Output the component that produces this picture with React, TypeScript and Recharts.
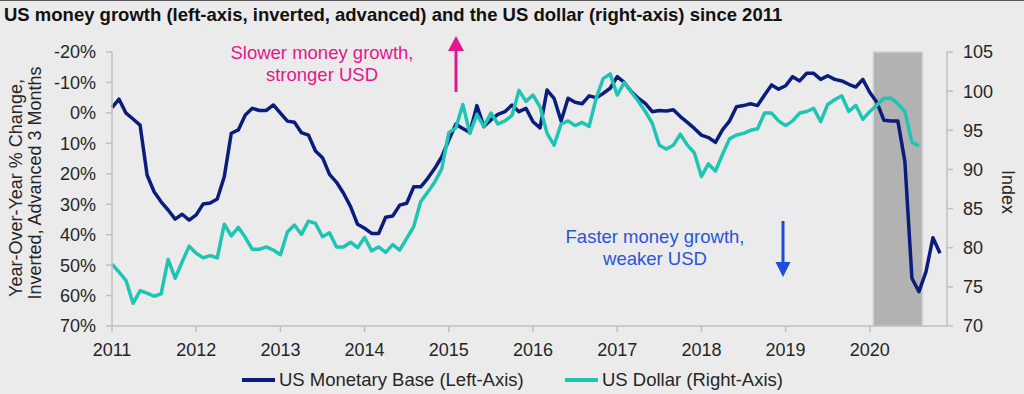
import React from 'react';
import { ComposedChart, Line, XAxis, YAxis, ReferenceArea, Legend } from 'recharts';

const FONT = '"Liberation Sans", Arial, Helvetica, sans-serif';

// Monthly index: 0 = Jan 2011
const YEARS = [2011, 2012, 2013, 2014, 2015, 2016, 2017, 2018, 2019, 2020];
const LEFT_TICKS = [-20, -10, 0, 10, 20, 30, 40, 50, 60, 70];
const RIGHT_TICKS = [70, 75, 80, 85, 90, 95, 100, 105];

// US Monetary Base, YoY % change (inverted, advanced 3 months)
const monetaryBase = [
  -1.7, -4.5, 0.1, 2.0, 4.0, 20.4, 25.9, 29.2, 31.9, 34.9,
  33.3, 35.2, 33.5, 29.9, 29.6, 28.3, 21.0, 6.7, 5.6, 0.7,
  -1.5, -0.8, -0.8, -2.6, 0.1, 2.7, 3.1, 6.5, 7.3, 12.5,
  14.7, 20.2, 22.8, 26.4, 30.8, 36.6, 37.9, 39.6, 39.6, 34.3,
  33.9, 30.3, 29.7, 24.3, 24.3, 21.5, 18.2, 14.4, 8.9, 3.7,
  5.1, 6.4, -2.4, 4.5, 2.3, 0.5, -0.4, -2.6, -0.4, -1.5,
  2.9, 4.9, -7.5, -4.8, 2.7, -4.8, -3.5, -3.0, -5.6, -5.0,
  -6.4, -8.1, -11.9, -10.0, -7.0, -4.8, -3.1, -0.4, -0.8, -0.6,
  -1.0, 1.2, 3.1, 5.1, 7.3, 8.1, 9.7, 5.6, 2.7, -2.0,
  -2.4, -3.0, -2.4, -5.9, -9.2, -7.8, -8.9, -11.9, -10.5, -13.0,
  -13.0, -11.0, -12.2, -11.0, -10.5, -9.4, -8.5, -11.0, -6.7, -3.5,
  2.4, 2.7, 2.7, 16.0, 54.3, 58.7, 52.2, 41.0, 46.1,
];

// US Dollar index
const usDollar = [
  77.9, 76.9, 75.8, 72.9, 74.5, 74.2, 73.8, 74.1, 78.5, 76.1,
  78.2, 80.2, 79.3, 78.7, 79.0, 78.7, 83.0, 81.5, 82.6, 81.3,
  79.8, 79.8, 80.1, 79.7, 79.1, 82.0, 82.9, 81.7, 83.4, 83.1,
  81.4, 81.9, 80.1, 80.1, 80.7, 80.0, 81.3, 79.6, 80.1, 79.4,
  80.4, 79.7, 81.2, 82.7, 85.9, 87.1, 88.4, 90.1, 94.7, 95.3,
  98.3, 94.6, 97.0, 95.5, 97.2, 95.8, 96.2, 96.9, 100.1, 98.7,
  99.5, 98.0, 94.6, 93.1, 95.8, 96.2, 95.6, 96.0, 95.5, 99.1,
  101.6, 102.2, 99.5, 101.1, 99.9, 98.7, 97.4, 95.9, 93.1, 92.6,
  93.1, 94.5, 93.1, 92.1, 89.1, 90.7, 89.8, 91.9, 93.9, 94.4,
  94.6, 95.0, 95.2, 97.2, 97.2, 96.2, 95.6, 96.2, 97.2, 97.4,
  97.8, 96.1, 98.3, 98.9, 99.4, 97.4, 98.2, 96.4, 97.4, 98.2,
  99.1, 99.1, 98.4, 97.4, 93.5, 93.0,
];

// shaded period (month index)
const SHADE = [108.5, 115.5];

const BASE_COLOR = '#0b1d7c';
const USD_COLOR = '#1fc5b3';

const data = monetaryBase.map((v, i) => ({
  m: i,
  base: v,
  usd: i < usDollar.length ? usDollar[i] : null,
}));

const LEGEND_ITEMS = [
  { name: 'US Monetary Base (Left-Axis)', color: BASE_COLOR, left: 242 },
  { name: 'US Dollar (Right-Axis)', color: USD_COLOR, left: 565 },
];

const tickStyle = { fontSize: 18, fill: '#262626', fontFamily: FONT };
const axisGray = '#bfbfbf';

const renderLegend = () => (
  <div style={{ position: 'relative', width: 1024, height: 24, fontFamily: FONT, fontSize: 18.5, color: '#262626' }}>
    {LEGEND_ITEMS.map((it) => (
      <div key={it.name} style={{ position: 'absolute', left: it.left, top: 0, height: 24, display: 'flex', alignItems: 'center', whiteSpace: 'nowrap' }}>
        <span style={{ display: 'inline-block', width: 33, height: 4, background: it.color, marginRight: 4 }} />
        <span>{it.name}</span>
      </div>
    ))}
  </div>
);

export default function App() {
  return (
    <div style={{ position: 'absolute', left: 0, top: 0, width: 1024, height: 394, background: '#ebebeb', overflow: 'hidden', fontFamily: FONT }}>
      <ComposedChart width={1024} height={394} data={data} margin={{ top: 52, right: 0, bottom: 14, left: 0 }}>
        <XAxis
          dataKey="m"
          type="number"
          domain={[0, 119]}
          ticks={YEARS.map((y) => (y - 2011) * 12)}
          tickFormatter={(v) => String(2011 + Math.round(v / 12))}
          interval={0}
          height={30}
          tick={tickStyle}
          tickSize={6}
          tickMargin={11}
          stroke={axisGray}
          axisLine={{ stroke: axisGray, strokeWidth: 1.5 }}
          tickLine={{ stroke: axisGray, strokeWidth: 1.5 }}
        />
        <YAxis
          yAxisId="left"
          orientation="left"
          width={112}
          domain={[-20, 70]}
          reversed
          ticks={LEFT_TICKS}
          interval={0}
          tickFormatter={(v) => `${v}%`}
          tick={tickStyle}
          tickSize={6}
          tickMargin={10}
          axisLine={{ stroke: axisGray, strokeWidth: 1.5 }}
          tickLine={{ stroke: axisGray, strokeWidth: 1.5 }}
        />
        <YAxis
          yAxisId="right"
          orientation="right"
          width={77}
          domain={[70, 105]}
          ticks={RIGHT_TICKS}
          interval={0}
          tick={tickStyle}
          tickSize={6}
          tickMargin={10}
          axisLine={{ stroke: axisGray, strokeWidth: 1.5 }}
          tickLine={{ stroke: axisGray, strokeWidth: 1.5 }}
        />
        <ReferenceArea
          yAxisId="left"
          x1={SHADE[0]}
          x2={SHADE[1]}
          y1={-20}
          y2={70}
          fill="#b2b2b2"
          fillOpacity={1}
          stroke="#d2d2d2"
          strokeWidth={1.5}
          ifOverflow="visible"
        />
        <Line yAxisId="left" type="linear" dataKey="base" stroke={BASE_COLOR} strokeWidth={3.5} dot={false} isAnimationActive={false} strokeLinejoin="round" />
        <Line yAxisId="right" type="linear" dataKey="usd" stroke={USD_COLOR} strokeWidth={3.5} dot={false} isAnimationActive={false} strokeLinejoin="round" connectNulls={false} />
        <Legend verticalAlign="bottom" height={24} content={renderLegend} wrapperStyle={{ bottom: 2, left: 0 }} />
      </ComposedChart>
      <svg width={1024} height={394} style={{ position: 'absolute', left: 0, top: 0, pointerEvents: 'none' }} fontFamily={FONT}>
        <line x1={0} y1={0.5} x2={1024} y2={0.5} stroke="#555" strokeWidth={1} />
        <text x={4} y={21} fontSize={18.5} fontWeight="bold" fill="#111">
          US money growth (left-axis, inverted, advanced) and the US dollar (right-axis) since 2011
        </text>
        <text transform="translate(16,188) rotate(-90)" textAnchor="middle" dominantBaseline="central" fontSize={18} fill="#262626">
          Year-Over-Year % Change,
        </text>
        <text transform="translate(35,183) rotate(-90)" textAnchor="middle" dominantBaseline="central" fontSize={18} fill="#262626">
          Inverted, Advanced 3 Months
        </text>
        <text transform="translate(1008,192) rotate(90)" textAnchor="middle" dominantBaseline="central" fontSize={18} fill="#262626">
          Index
        </text>
        <text x={322} y={52} textAnchor="middle" dominantBaseline="central" fontSize={18.5} fill="#e5168b">
          Slower money growth,
        </text>
        <text x={322} y={74} textAnchor="middle" dominantBaseline="central" fontSize={18.5} fill="#e5168b">
          stronger USD
        </text>
        <line x1={456} y1={92} x2={456} y2={50} stroke="#e5168b" strokeWidth={3} />
        <polygon points="448,51 464,51 456,36" fill="#e5168b" />
        <text x={655} y={236} textAnchor="middle" dominantBaseline="central" fontSize={18.5} fill="#2a55d8">
          Faster money growth,
        </text>
        <text x={655} y={258} textAnchor="middle" dominantBaseline="central" fontSize={18.5} fill="#2a55d8">
          weaker USD
        </text>
        <line x1={783} y1={221} x2={783} y2={263} stroke="#1d4fd6" strokeWidth={3} />
        <polygon points="775.5,262 790.5,262 783,277" fill="#1d4fd6" />
      </svg>
    </div>
  );
}
